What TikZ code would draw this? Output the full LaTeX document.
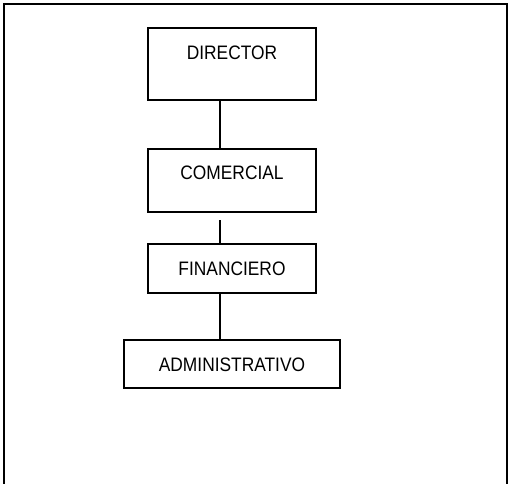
\documentclass[tikz,border=0pt]{standalone}
\usepackage{fontspec}
\setmainfont[FakeStretch=0.89]{Liberation Sans}
\usetikzlibrary{positioning}

\begin{document}
\begin{tikzpicture}[
        x=1pt, y=-1pt,
        every node/.style={font=\fontsize{19.5}{23}\selectfont},
        cargo/.style={draw, line width=1.5pt, inner sep=0pt, outer sep=0pt, text height=14pt, text depth=0pt, minimum width=168pt, align=center},
        enlace/.style={line width=1.5pt}
    ]
    \useasboundingbox (0,0) rectangle (509,483);
    \draw[line width=1.5pt] (4,500) -- (4,4) -- (507,4) -- (507,500);
    \node[cargo, minimum height=72pt, text depth=24pt] (director) at (232,64) {DIRECTOR};
    \node[cargo, minimum height=63pt, text depth=17pt, below=49pt of director] (comercial) {COMERCIAL};
    \node[cargo, minimum height=49pt, below=32pt of comercial] (financiero) {FINANCIERO};
    \node[cargo, minimum height=48pt, minimum width=216pt, below=47pt of financiero] (admin) {ADMINISTRATIVO};
    \draw[enlace] ([xshift=-12pt]director.south) -- ([xshift=-12pt]comercial.north);
    \draw[enlace, shorten <=8pt] ([xshift=-12pt]comercial.south) -- ([xshift=-12pt]financiero.north);
    \draw[enlace] ([xshift=-12pt]financiero.south) -- ([xshift=-12pt]admin.north);
\end{tikzpicture}
\end{document}
